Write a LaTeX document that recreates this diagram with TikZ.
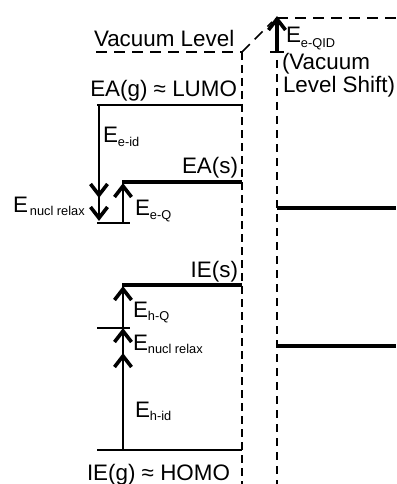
\documentclass[tikz,border=0pt]{standalone}
\usepackage{fontspec}
\setmainfont{Liberation Sans}
\newcommand{\bigfs}{\fontsize{22.4}{26}\selectfont}
\newcommand{\subfs}{\fontsize{12.8}{14}\selectfont}
\newcommand{\Elab}[2][4.5pt]{E\raisebox{-#1}{\subfs #2}}
\begin{document}
\begin{tikzpicture}[x=1pt,y=-1pt,
  lbl/.style={inner sep=0pt, outer sep=0pt, font=\bigfs},
  lvl/.style={line width=1.8pt},
  thk/.style={line width=3.9pt},
  tickln/.style={line width=1.2pt},
  vacline/.style={line width=1.6pt, dash pattern=on 11pt off 7pt},
  wallL/.style={line width=2.1pt, dash pattern=on 8pt off 5pt},
  wallR/.style={line width=1.5pt, dash pattern=on 8pt off 6pt},
  shaft/.style={line width=2.2pt},
  bigshaft/.style={line width=3.2pt},
  headup/.pic={\draw[line width=3.6pt, line join=miter] (-8.5,12) -- (0,1) -- (8.5,12);},
  headdown/.pic={\draw[line width=3.6pt, line join=miter] (-8.5,-12) -- (0,-1) -- (8.5,-12);}
]
\useasboundingbox (0,0) rectangle (396,484);

% coordinates
\coordinate (vacL) at (96,52);
\coordinate (vacC) at (242,52);
\coordinate (vacD) at (272,22);
\coordinate (vacT) at (277,18);
\coordinate (vacR) at (396,18);
\coordinate (wallLb) at (242,484);
\coordinate (wallRt) at (277,60);
\coordinate (wallRb) at (277,484);
\coordinate (qidB) at (277,52);
\coordinate (qidTl) at (270,52);
\coordinate (qidTr) at (284,52);

\coordinate (lumoL) at (97,105);
\coordinate (lumoR) at (242,105);
\coordinate (easL) at (122,182);
\coordinate (easR) at (242,182);
\coordinate (eaTickL) at (97,223);
\coordinate (eaTickR) at (130,223);
\coordinate (dA1) at (99,105);
\coordinate (dA2) at (99,196);
\coordinate (dA3) at (99,219);
\coordinate (uA1) at (123,223);
\coordinate (uA2) at (123,185);
\coordinate (rEAL) at (277,208);
\coordinate (rEAR) at (396,208);

\coordinate (iesL) at (122,285);
\coordinate (iesR) at (242,285);
\coordinate (ieTickL) at (97,328);
\coordinate (ieTickR) at (130,328);
\coordinate (homoL) at (97,450);
\coordinate (homoR) at (242,450);
\coordinate (hA1) at (123,450);
\coordinate (hA2) at (123,355);
\coordinate (hA3) at (123,330);
\coordinate (hA4) at (123,328);
\coordinate (hA5) at (123,288);
\coordinate (rIEL) at (277,346);
\coordinate (rIER) at (396,346);

% vacuum level and walls
\draw[vacline] (vacL) -- (vacC);
\draw[vacline] (vacC) -- (vacD);
\draw[vacline] (vacT) -- (vacR);
\draw[wallL] (vacC) -- (wallLb);
\draw[wallR] (wallRt) -- (wallRb);
\draw[bigshaft] (qidB) -- (vacT);
\pic at (vacT) {headup};
\draw[line width=1.6pt] (qidTl) -- (qidTr);

% EA side
\draw[lvl] (lumoL) -- (lumoR);
\draw[thk] (easL) -- (easR);
\draw[tickln] (eaTickL) -- (eaTickR);
\draw[shaft] (dA1) -- (dA2);
\pic at (dA2) {headdown};
\draw[shaft] (dA2) -- (dA3);
\pic at (dA3) {headdown};
\draw[shaft] (uA1) -- (uA2);
\pic at (uA2) {headup};
\draw[thk] (rEAL) -- (rEAR);

% IE side
\draw[thk] (iesL) -- (iesR);
\draw[tickln] (ieTickL) -- (ieTickR);
\draw[lvl] (homoL) -- (homoR);
\draw[shaft] (hA1) -- (hA2);
\pic at (hA2) {headup};
\draw[shaft] (hA2) -- (hA3);
\pic at (hA3) {headup};
\draw[shaft] (hA4) -- (hA5);
\pic at (hA5) {headup};
\draw[thk] (rIEL) -- (rIER);

% labels
\node[lbl, anchor=base west] (tvac) at (94,47) {Vacuum Level};
\node[lbl, anchor=base west] (tqid) at (286,43) {\Elab[5pt]{e-QID}};
\node[lbl, anchor=base west] (tvs1) at (282,70) {(Vacuum};
\node[lbl, anchor=base west] (tvs2) at (283,93) {Level Shift)};
\node[lbl, anchor=base east] (tlumo) at (237,97) {EA(g) ≈ LUMO};
\node[lbl, anchor=base west] (teid) at (103,142) {\Elab{e-id}};
\node[lbl, anchor=base east] (teas) at (238,173) {EA(s)};
\node[lbl, anchor=base west] (tnrl) at (13,212) {E\hspace{2pt}\raisebox{-3pt}{\subfs nucl relax}};
\node[lbl, anchor=base west] (teq) at (135,215) {\Elab{e-Q}};
\node[lbl, anchor=base east] (ties) at (238,277) {IE(s)};
\node[lbl, anchor=base west] (thq) at (133,317) {\Elab[3pt]{h-Q}};
\node[lbl, anchor=base west] (tnrr) at (133,350) {\Elab[3pt]{nucl relax}};
\node[lbl, anchor=base west] (thid) at (135,417) {\Elab[3pt]{h-id}};
\node[lbl, anchor=base west] (thomo) at (87,480) {IE(g) ≈ HOMO};
\end{tikzpicture}
\end{document}
